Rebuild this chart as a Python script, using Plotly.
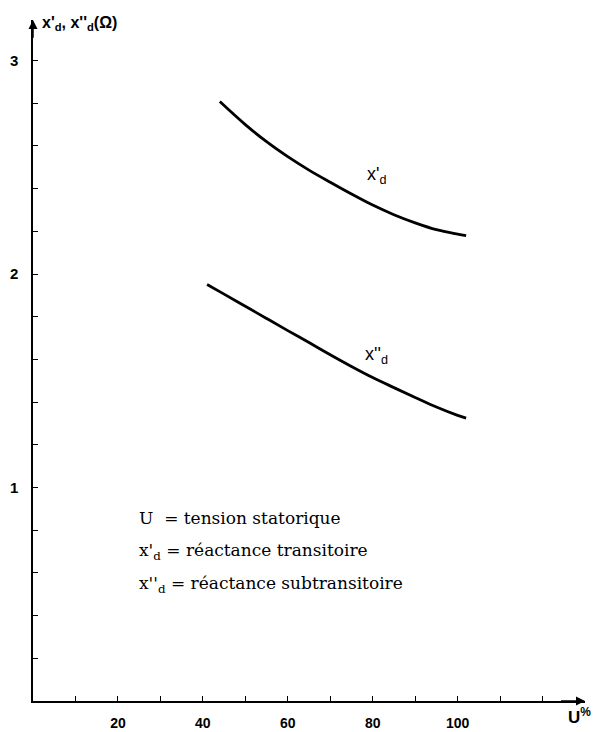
import plotly.graph_objects as go

# data
u_xd1 = [44, 50, 55, 60, 65, 70, 75, 80, 85, 90, 95, 100, 102]
xd1 = [2.808, 2.70, 2.62, 2.55, 2.487, 2.43, 2.375, 2.323, 2.278, 2.24, 2.208, 2.187, 2.18]

u_xd2 = [41, 45, 50, 55, 60, 65, 70, 75, 80, 85, 90, 95, 100, 102]
xd2 = [1.951, 1.906, 1.849, 1.792, 1.735, 1.679, 1.622, 1.567, 1.515, 1.468, 1.422, 1.377, 1.338, 1.325]

x_ticks = [10, 20, 30, 40, 50, 60, 70, 80, 90, 100, 110, 120]
x_labels = ["", "20", "", "40", "", "60", "", "80", "", "100", "", ""]
y_ticks = [0.2, 0.4, 0.6, 0.8, 1.0, 1.2, 1.4, 1.6, 1.8, 2.0, 2.2, 2.4, 2.6, 2.8, 3.0]
y_labels = ["", "", "", "", "<b>1</b>", "", "", "", "", "<b>2</b>", "", "", "", "", "<b>3</b>"]
x_labels = ["<b>%s</b>" % s if s else "" for s in x_labels]

serif = "DejaVu Serif"
sans = "Liberation Sans"

fig = go.Figure()
fig.add_trace(go.Scatter(x=u_xd1, y=xd1, mode="lines", line=dict(color="black", width=2.8, shape="spline", smoothing=1.0), showlegend=False))
fig.add_trace(go.Scatter(x=u_xd2, y=xd2, mode="lines", line=dict(color="black", width=2.8, shape="spline", smoothing=1.0), showlegend=False))

fig.update_layout(
    width=599, height=732,
    margin=dict(l=33, r=14, t=20, b=31),
    paper_bgcolor="white", plot_bgcolor="white",
    xaxis=dict(range=[0, 130], showgrid=False, zeroline=False, showline=True, linecolor="black", linewidth=1.5,
               tickmode="array", tickvals=x_ticks, ticktext=x_labels, ticks="inside", ticklen=5, tickcolor="black",
               tickfont=dict(family=sans, size=14, color="black"), ticklabelstandoff=8, automargin=False),
    yaxis=dict(range=[0, 3.19], showgrid=False, zeroline=False, showline=True, linecolor="black", linewidth=1.5,
               tickmode="array", tickvals=y_ticks, ticktext=y_labels, ticks="inside", ticklen=5, tickcolor="black",
               tickfont=dict(family=sans, size=15, color="black"), ticklabelstandoff=10, automargin=False),
)

# axis arrows
fig.add_annotation(x=130, y=0, ax=124, ay=0, xref="x", yref="y", axref="x", ayref="y",
                   showarrow=True, arrowhead=2, arrowsize=1.2, arrowwidth=1.5, arrowcolor="black", text="")
fig.add_annotation(x=0, y=3.19, ax=0, ay=3.1, xref="x", yref="y", axref="x", ayref="y",
                   showarrow=True, arrowhead=2, arrowsize=1.2, arrowwidth=1.5, arrowcolor="black", text="")

# axis titles
fig.add_annotation(x=0.012, y=0.995, xref="paper", yref="paper", xanchor="left", yanchor="middle", showarrow=False,
                   text="<b>x'<sub>d</sub>, x''<sub>d</sub>(Ω)</b>", font=dict(family=sans, size=16, color="black"))
fig.add_annotation(x=0.99, y=-0.022, xref="paper", yref="paper", xanchor="center", yanchor="middle", showarrow=False,
                   text="<b>U<sup>%</sup></b>", font=dict(family=sans, size=17, color="black"))

# curve labels
fig.add_annotation(x=81, y=2.46, xref="x", yref="y", showarrow=False,
                   text="x'<sub>d</sub>", font=dict(family=sans, size=18, color="black"))
fig.add_annotation(x=81, y=1.62, xref="x", yref="y", showarrow=False,
                   text="x''<sub>d</sub>", font=dict(family=sans, size=18, color="black"))

# legend text
legend_lines = ["U&nbsp;&nbsp;= tension statorique",
                "x'<sub>d</sub> = réactance transitoire",
                "x''<sub>d</sub> = réactance subtransitoire"]
legend_y = [0.855, 0.70, 0.545]
for t, yy in zip(legend_lines, legend_y):
    fig.add_annotation(x=24.5, y=yy, xref="x", yref="y", xanchor="left", yanchor="middle", showarrow=False,
                       text=t, font=dict(family=serif, size=17, color="black"))

fig.write_html("out.html")
